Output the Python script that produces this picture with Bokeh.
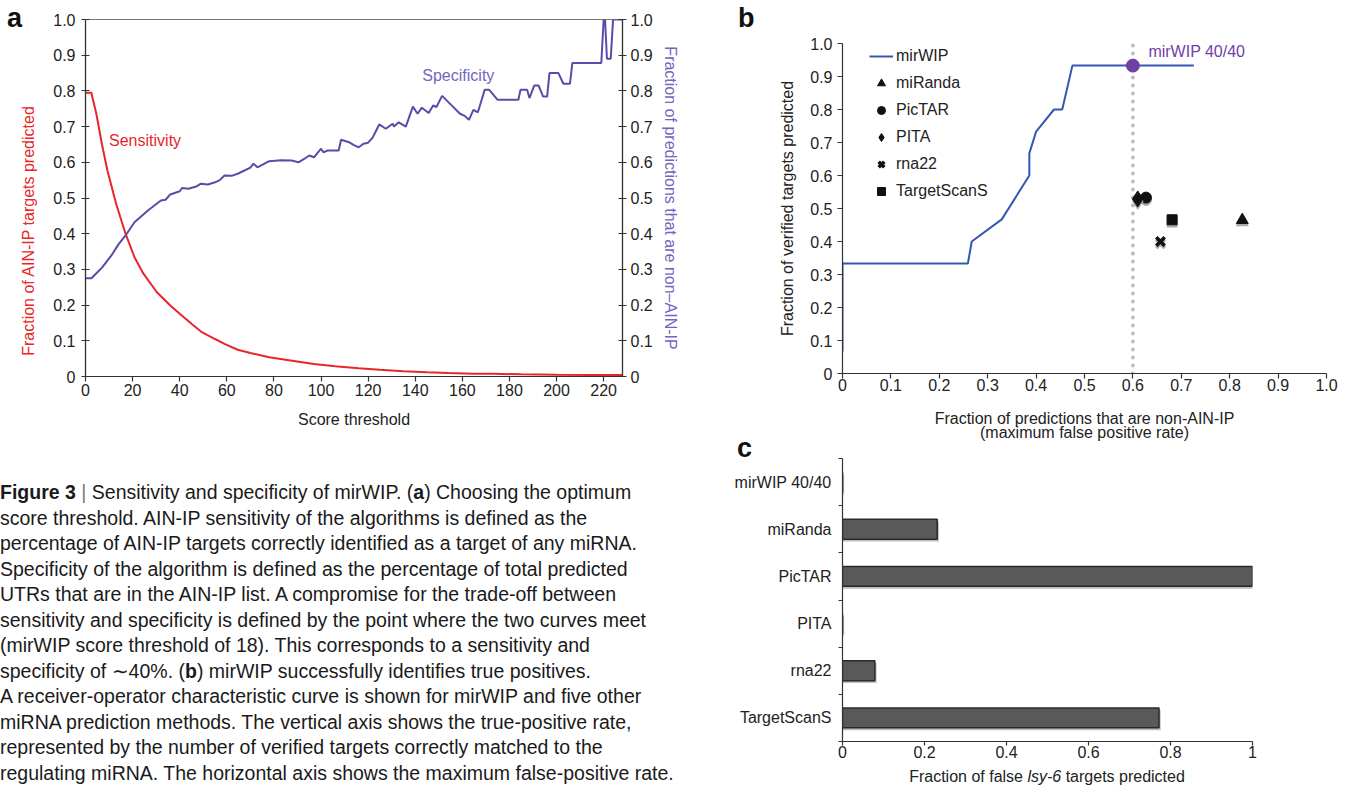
import math
from bokeh.plotting import figure
from bokeh.models import (Range1d, LinearAxis, FixedTicker, Label, Legend,
                          LegendItem, Div, ColumnDataSource)
from bokeh.layouts import row, column
from bokeh.transform import dodge
from bokeh.embed import file_html
from bokeh.resources import INLINE

FONT = "Liberation Sans"
RED = "#e8262a"
PURPLE = "#5b4ba8"
PURPLE_LIGHT = "#7565c0"
BLUE = "#3656b5"
MIRWIP_PT = "#6f3fa3"
INK = "#222222"
AXIS = "#333333"

# ---------------- data: panel a ----------------
a_xticks = [0, 20, 40, 60, 80, 100, 120, 140, 160, 180, 200, 220]
a_yticks = [0, 0.1, 0.2, 0.3, 0.4, 0.5, 0.6, 0.7, 0.8, 0.9, 1.0]

sens_x = [0, 2.5, 3, 4.6, 7, 9.3, 13, 17, 20.8, 24.6, 30.3, 36, 40, 45, 49.4, 55,
          59, 64.6, 70, 78, 87, 97, 106, 116, 125, 135, 145, 154, 165, 173, 185,
          200, 215, 228]
sens_y = [0.795, 0.795, 0.78, 0.736, 0.65, 0.577, 0.484, 0.40, 0.334, 0.288, 0.236,
          0.199, 0.176, 0.148, 0.124, 0.105, 0.0915, 0.075, 0.066, 0.054, 0.045,
          0.035, 0.029, 0.023, 0.019, 0.015, 0.012, 0.010, 0.008, 0.0075, 0.006,
          0.005, 0.0045, 0.004]

spec_x = [0, 2.5, 4, 7, 11, 14, 17, 20.8, 26.5, 32, 34, 36, 40, 41, 43.7, 47, 49,
          52, 55, 57, 59, 62, 64.6, 67.5, 70, 71.3, 73, 78, 83, 87.5, 90.4, 93, 95,
          97, 100, 101, 102.8, 107.5, 108.5, 112, 114, 116, 118, 120, 122, 124.7,
          127.5, 130.4, 131, 133, 136, 139, 141, 142.8, 145.7, 147.6, 149, 151.4,
          156, 159, 161, 162.8, 164.7, 166.6, 169.5, 171.4, 175, 183.8, 184.7,
          187.5, 188.5, 190.5, 192.4, 194.3, 196, 197, 200.8, 202.9, 205.7, 206.7,
          219, 220, 220.6, 221.4, 223, 224, 228]
spec_y = [0.275, 0.275, 0.285, 0.305, 0.339, 0.37, 0.395, 0.432, 0.465, 0.493,
          0.495, 0.51, 0.519, 0.528, 0.526, 0.532, 0.54, 0.538, 0.544, 0.55, 0.563,
          0.562, 0.568, 0.577, 0.585, 0.596, 0.586, 0.603, 0.606, 0.605, 0.600,
          0.61, 0.619, 0.614, 0.638, 0.628, 0.633, 0.633, 0.663, 0.656, 0.648,
          0.642, 0.652, 0.655, 0.67, 0.706, 0.694, 0.708, 0.70, 0.712, 0.70, 0.756,
          0.736, 0.753, 0.738, 0.759, 0.755, 0.786, 0.756, 0.736, 0.73, 0.719,
          0.747, 0.74, 0.803, 0.803, 0.775, 0.775, 0.803, 0.803, 0.78, 0.815,
          0.815, 0.784, 0.784, 0.85, 0.85, 0.82, 0.82, 0.878, 0.878, 1.0, 1.0,
          0.89, 0.89, 1.0, 1.0]

# ---------------- data: panel b ----------------
b_ticks = [0, 0.1, 0.2, 0.3, 0.4, 0.5, 0.6, 0.7, 0.8, 0.9, 1.0]
roc_x = [0, 0, 0.259, 0.267, 0.329, 0.386, 0.386, 0.40, 0.437, 0.454, 0.475, 0.726]
roc_y = [0.067, 0.333, 0.333, 0.40, 0.467, 0.60, 0.667, 0.733, 0.80, 0.80, 0.933, 0.933]
methods = ["miRanda", "PicTAR", "PITA", "rna22", "TargetScanS"]
method_fpr = [0.826, 0.627, 0.610, 0.657, 0.681]
method_tpr = [0.465, 0.533, 0.529, 0.400, 0.466]
method_marker = ["triangle", "circle", "diamond", "x", "square"]
method_size = [12, 11, 16, 12, 10]
mirwip_fpr = 0.60
mirwip_tpr = 0.933
mirwip_label = "mirWIP 40/40"

# ---------------- data: panel c ----------------
c_methods = ["mirWIP 40/40", "miRanda", "PicTAR", "PITA", "rna22", "TargetScanS"]
c_values = [0.0, 0.231, 1.0, 0.0, 0.079, 0.772]
c_xticks = [0, 0.2, 0.4, 0.6, 0.8, 1]

caption_lines = [
    "<b>Figure 3</b> <span style='color:#777'>|</span> Sensitivity and specificity of mirWIP. (<b>a</b>) Choosing the optimum",
    "score threshold. AIN-IP sensitivity of the algorithms is defined as the",
    "percentage of AIN-IP targets correctly identified as a target of any miRNA.",
    "Specificity of the algorithm is defined as the percentage of total predicted",
    "UTRs that are in the AIN-IP list. A compromise for the trade-off between",
    "sensitivity and specificity is defined by the point where the two curves meet",
    "(mirWIP score threshold of 18). This corresponds to a sensitivity and",
    "specificity of \u223c40%. (<b>b</b>) mirWIP successfully identifies true positives.",
    "A receiver-operator characteristic curve is shown for mirWIP and five other",
    "miRNA prediction methods. The vertical axis shows the true-positive rate,",
    "represented by the number of verified targets correctly matched to the",
    "regulating miRNA. The horizontal axis shows the maximum false-positive rate.",
]


def style_axis(ax, size="16px"):
    ax.axis_line_color = AXIS
    ax.axis_line_width = 1.2
    ax.major_tick_line_color = AXIS
    ax.major_tick_line_width = 1.2
    ax.minor_tick_line_color = None
    ax.major_label_text_font = FONT
    ax.major_label_text_font_size = size
    ax.major_label_text_color = INK
    ax.axis_label_text_font = FONT
    ax.axis_label_text_font_size = size
    ax.axis_label_text_font_style = "normal"
    ax.axis_label_text_color = INK


def html_box(w, h, inner):
    return ("<div style='position:relative; width:%dpx; height:%dpx; "
            "font-family:\"%s\";'>%s</div>" % (w, h, FONT, inner))


LETTER = ("<span style='position:absolute; left:%dpx; top:%dpx; font-size:27px; "
          "font-weight:bold; line-height:%dpx; color:#111'>%s</span>")

# ================= panel a =================
pa = figure(width=655, height=440, x_range=Range1d(0, 228), y_range=Range1d(0, 1),
            output_backend="svg", toolbar_location=None,
            min_border_left=40, min_border_right=78, min_border_top=19,
            min_border_bottom=64)
pa.frame_align = False
pa.extra_y_ranges = {"right": Range1d(0, 1)}
ra = LinearAxis(y_range_name="right")
pa.add_layout(ra, "right")
pa.xgrid.visible = False
pa.ygrid.visible = False
pa.outline_line_color = "#777777"
pa.outline_line_width = 1.2

for ax in (pa.xaxis[0], pa.yaxis[0], ra):
    style_axis(ax)
pa.xaxis[0].ticker = FixedTicker(ticks=a_xticks)
pa.xaxis[0].major_tick_in = 0
pa.xaxis[0].major_tick_out = 5
pa.xaxis[0].major_label_standoff = 2
pa.xaxis[0].axis_label = "Score threshold"
pa.xaxis[0].axis_label_standoff = 12
for ax in (pa.yaxis[0], ra):
    ax.ticker = FixedTicker(ticks=a_yticks)
    ax.major_label_overrides = {0: "0", 1: "1.0"}
    ax.major_tick_in = 4
    ax.major_tick_out = 4
pa.yaxis[0].major_label_standoff = 6
ra.major_label_standoff = 4
ra.axis_label = "Fraction of predictions that are non\u2013AIN-IP"
ra.axis_label_text_color = PURPLE_LIGHT
ra.axis_label_standoff = 6

pa.line(sens_x, sens_y, line_color=RED, line_width=2)
pa.line(spec_x, spec_y, line_color=PURPLE, line_width=2, y_range_name="right")

pa.add_layout(Label(x=10, y=0.66, text="Sensitivity", text_font=FONT,
                    text_font_size="16px", text_color=RED, text_baseline="middle"))
pa.add_layout(Label(x=143, y=0.843, text="Specificity", text_font=FONT,
                    text_font_size="16px", text_color=PURPLE_LIGHT,
                    text_baseline="middle"))

div_a = Div(width=45, height=440, margin=0, text=html_box(45, 440,
    LETTER % (7, 5, 27, "a")
    + "<span style='position:absolute; left:29px; top:231px; white-space:nowrap; "
      "font-size:16px; line-height:18px; color:%s; "
      "transform:translate(-50%%,-50%%) rotate(-90deg)'>"
      "Fraction of AIN-IP targets predicted</span>" % RED))

caption_html = ("<div style='margin-top:40px; white-space:nowrap; line-height:25.5px'>"
                + "<br>".join(caption_lines) + "</div>")
cap = Div(text=caption_html, width=700, height=349, margin=0,
          styles={"font-family": FONT, "font-size": "19.5px", "color": "#1a1a1a",
                  "overflow": "hidden"})

# ================= panel b =================
pb = figure(width=591, height=443, x_range=Range1d(0, 1), y_range=Range1d(0, 1),
            output_backend="svg", toolbar_location=None,
            min_border_left=82, min_border_right=25, min_border_top=43,
            min_border_bottom=67)
pb.frame_align = False
pb.xgrid.visible = False
pb.ygrid.visible = False
pb.outline_line_color = None
for ax in (pb.xaxis[0], pb.yaxis[0]):
    style_axis(ax)
    ax.ticker = FixedTicker(ticks=b_ticks)
    ax.major_label_overrides = {0: "0", 1: "1.0"}
    ax.major_tick_in = 0
    ax.major_tick_out = 5
pb.xaxis[0].major_label_standoff = 0
pb.yaxis[0].major_label_standoff = 5
pb.xaxis[0].axis_label = "Fraction of predictions that are non-AIN-IP\n(maximum false positive rate)"
pb.xaxis[0].axis_label_text_line_height = 0.85
pb.xaxis[0].axis_label_standoff = 16
pb.yaxis[0].axis_label = "Fraction of verified targets predicted"
pb.yaxis[0].axis_label_standoff = 11

pb.line([mirwip_fpr, mirwip_fpr], [0, 1], line_color="#bdbdbd", line_width=4,
        line_dash="0 8", line_cap="round")
r_roc = pb.line(roc_x, roc_y, line_color=BLUE, line_width=2)

items = [LegendItem(label="mirWIP", renderers=[r_roc])]
for name, fx, ty, mk, sz in zip(methods, method_fpr, method_tpr, method_marker, method_size):
    src = ColumnDataSource(dict(x=[fx], y=[ty]))
    if mk == "x":
        pb.scatter("x", dodge("y", -0.007), source=src, marker=mk, size=sz,
                   line_color="#a8a8a8", line_width=3.5)
        r = pb.scatter("x", "y", source=src, marker=mk, size=sz,
                       line_color="#111111", line_width=3.5)
    else:
        pb.scatter("x", dodge("y", -0.007), source=src, marker=mk, size=sz,
                   fill_color="#a8a8a8", line_color="#a8a8a8")
        r = pb.scatter("x", "y", source=src, marker=mk, size=sz,
                       fill_color="#111111", line_color="#111111")
    items.append(LegendItem(label=name, renderers=[r]))

pb.scatter([mirwip_fpr], [mirwip_tpr], marker="circle", size=13,
           fill_color=MIRWIP_PT, line_color=MIRWIP_PT)
pb.add_layout(Label(x=0.632, y=0.977, text=mirwip_label, text_font=FONT,
                    text_font_size="16px", text_color="#7040a8",
                    text_baseline="middle"))

legend = Legend(items=items, location=(27, 172), border_line_color=None,
                background_fill_alpha=0, padding=0, margin=0, spacing=7,
                glyph_width=24, glyph_height=20, label_height=20,
                label_standoff=3, label_text_font=FONT,
                label_text_font_size="16px", label_text_color=INK)
pb.add_layout(legend)

div_b = Div(width=60, height=443, margin=0,
            text=html_box(60, 443, LETTER % (38, 5, 27, "b")))
div_c = Div(width=651, height=14, margin=0,
            text=html_box(651, 14, LETTER % (37, -3, 16, "c")))

# ================= panel c =================
c_pos = [i + 0.5 for i in range(len(c_methods))]
pc = figure(width=651, height=308, x_range=Range1d(0, 1),
            y_range=Range1d(len(c_methods), 0),
            output_backend="svg", toolbar_location=None,
            min_border_left=142, min_border_right=99, min_border_top=1,
            min_border_bottom=24)
pc.frame_align = False
pc.xgrid.visible = False
pc.ygrid.visible = False
pc.outline_line_color = None
for ax in (pc.xaxis[0], pc.yaxis[0]):
    style_axis(ax)
pc.xaxis[0].ticker = FixedTicker(ticks=c_xticks)
pc.xaxis[0].major_label_overrides = {0: "0", 1: "1"}
pc.xaxis[0].major_tick_in = 0
pc.xaxis[0].major_tick_out = 4
pc.xaxis[0].major_label_standoff = 0
pc.yaxis[0].ticker = FixedTicker(ticks=c_pos, minor_ticks=list(range(len(c_methods) + 1)))
pc.yaxis[0].major_label_overrides = {p: m for p, m in zip(c_pos, c_methods)}
pc.yaxis[0].major_tick_in = 0
pc.yaxis[0].major_tick_out = 0
pc.yaxis[0].minor_tick_line_color = AXIS
pc.yaxis[0].minor_tick_in = 0
pc.yaxis[0].minor_tick_out = 4
pc.yaxis[0].major_label_standoff = 7

csrc = ColumnDataSource(dict(y=c_pos, v=c_values))
pc.hbar(y=dodge("y", 0.05), left=0, right=dodge("v", 0.004), height=0.42,
        source=csrc, fill_color="#bdbdbd", line_color=None)
pc.hbar(y="y", left=0, right="v", height=0.42, source=csrc,
        fill_color="#58595b", line_color="#2a2a2a", line_width=1.5)

div_x = Div(width=651, height=24, margin=0, text=html_box(651, 24,
    "<span style='position:absolute; left:347px; top:3px; white-space:nowrap; "
    "font-size:16px; line-height:18px; color:%s; transform:translateX(-50%%)'>"
    "Fraction of false <i>lsy-6</i> targets predicted</span>" % INK))

layout = row(column(row(div_a, pa), cap),
             column(row(div_b, pb), div_c, pc, div_x))
open("out.html", "w").write(file_html(layout, INLINE))
